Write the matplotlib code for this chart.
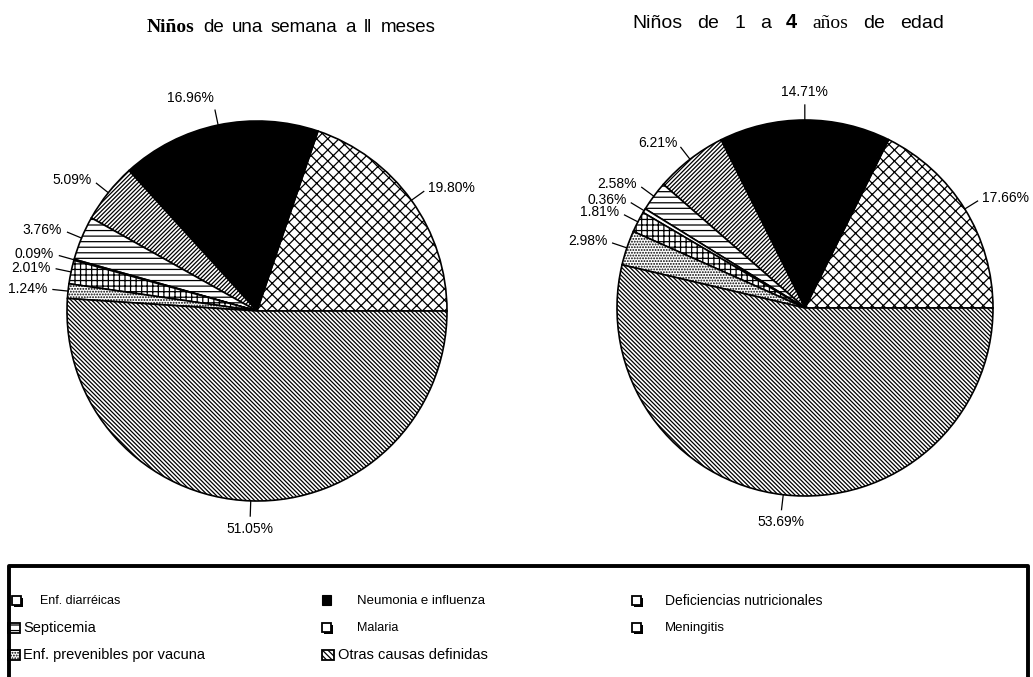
import numpy as np
import matplotlib
matplotlib.use("Agg")
import matplotlib.pyplot as plt
from matplotlib.patches import Rectangle
from matplotlib.lines import Line2D

plt.rcParams['font.family'] = ['Liberation Sans', 'DejaVu Sans']
plt.rcParams['hatch.linewidth'] = 0.9

W, H = 1033, 677

# data
categories = ["Enf. diarréicas", "Neumonia e influenza", "Deficiencias nutricionales",
              "Septicemia", "Malaria", "Meningitis",
              "Enf. prevenibles por vacuna", "Otras causas definidas"]
infants = [19.80, 16.96, 5.09, 3.76, 0.09, 2.01, 1.24, 51.05]
children = [17.66, 14.71, 6.21, 2.58, 0.36, 1.81, 2.98, 53.69]

# styles per category
faces = ['white', 'black', 'white', 'white', 'white', 'white', 'white', 'white']
hatches = ['xxx', None, '////////', '---', None, '+++', '......', '\\' * 8]
icon_hatches = ['xxx', None, '////////', '---', None, '+++', '......', '\\' * 6]
icon_kind = ['box', 'solid', 'box', 'hatch', 'box', 'box', 'hatch', 'hatch']

fig = plt.figure(figsize=(W / 100, H / 100), dpi=100)
renderer = fig.canvas.get_renderer()


def pie_axes(cx, cy, R, pad=1.6):
    ax = fig.add_axes([(cx - R * pad) / W, (H - cy - R * pad) / H,
                       2 * R * pad / W, 2 * R * pad / H])
    ax.axis('off')
    return ax, pad


def draw_pie(ax, pad, values):
    wedges, _ = ax.pie(values, radius=1, startangle=0, counterclock=True,
                       colors=faces,
                       wedgeprops=dict(edgecolor='black', linewidth=1.2))
    for w, h in zip(wedges, hatches):
        if h:
            w.set_hatch(h)
    for w, v in zip(wedges, values):
        ang = np.deg2rad((w.theta1 + w.theta2) / 2)
        c, s = np.cos(ang), np.sin(ang)
        ax.plot([c, 1.08 * c], [s, 1.08 * s], color='black', lw=0.9)
        ha = 'center' if abs(c) < 0.12 else ('left' if c > 0 else 'right')
        va = 'bottom' if s > 0.9 else ('top' if s < -0.9 else 'center')
        ax.text(1.11 * c, 1.11 * s, f"{v:.2f}%", ha=ha, va=va, fontsize=10)
    ax.set_xlim(-pad, pad)
    ax.set_ylim(-pad, pad)
    ax.set_aspect('equal')


ax1, p1 = pie_axes(257, 311, 190)
draw_pie(ax1, p1, infants)
ax2, p2 = pie_axes(805, 308, 188)
draw_pie(ax2, p2, children)


def chain_text(x, y, parts, gap=6):
    for txt, kw in parts:
        t = fig.text(x / W, 1 - y / H, txt, va='center', ha='left', **kw)
        bb = t.get_window_extent(renderer=renderer)
        x += bb.width + gap


sans_l = dict(family='Liberation Sans', fontsize=13.5)
serif_bl = dict(family='Liberation Serif', fontsize=14, weight='bold')
sans = dict(family='Liberation Sans', fontsize=14)
serif = dict(family='Liberation Serif', fontsize=14)
sans_b = dict(family='Liberation Sans', fontsize=14.5, weight='bold')

chain_text(147, 27, [("Niños", serif_bl), ("de", sans_l), ("una", sans_l), ("semana", sans_l),
                     ("a", sans_l), ("ll", sans_l), ("meses", sans_l)], gap=8)
chain_text(632, 23, [("Niños", sans), ("de", sans), ("1", sans), ("a", sans),
                     ("4", sans_b), ("años", serif), ("de", sans), ("edad", sans)], gap=15)

# legend panel in pixel coordinates
lg = fig.add_axes([0, 0, 1, 1])
lg.set_xlim(0, W)
lg.set_ylim(H, 0)
lg.axis('off')
lg.add_line(Line2D([9, 9, 1028, 1028], [H + 5, 566, 566, H + 5], color='black', lw=2.8))

row_y = [601, 628, 655]
icon_x = [12, 322, 632, 8, 322, 632, 8, 322]
text_x = [40, 357, 665, 23, 357, 665, 23, 338]
text_size = [9, 9.5, 10, 10.5, 9, 9.5, 10.5, 10.5]

for i, name in enumerate(categories):
    y = row_y[i // 3]
    x = icon_x[i]
    kind = icon_kind[i]
    if kind == 'box':
        lg.add_patch(Rectangle((x + 2, y - 3), 9, 9, facecolor='black', edgecolor='black', lw=0))
        lg.add_patch(Rectangle((x, y - 5), 9, 9, facecolor='white', edgecolor='black', lw=1.3))
    elif kind == 'solid':
        lg.add_patch(Rectangle((x, y - 6), 9, 10, facecolor='black', edgecolor='black', lw=0.8))
    else:
        lg.add_patch(Rectangle((x, y - 5), 12, 10, facecolor='white', edgecolor='black',
                               lw=1.3, hatch=icon_hatches[i]))
    lg.text(text_x[i], y, name, ha='left', va='center', fontsize=text_size[i])

fig.savefig('out.png', dpi=100, facecolor='white')
